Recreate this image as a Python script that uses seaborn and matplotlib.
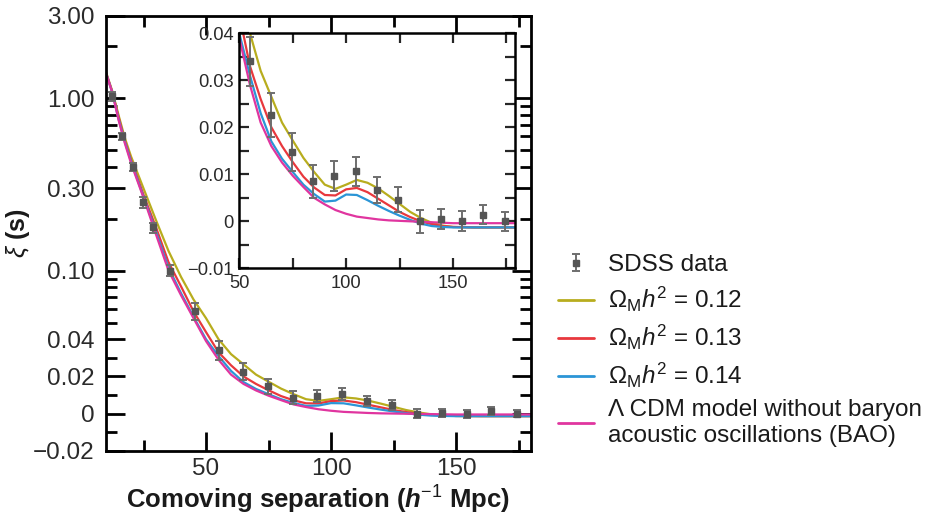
import matplotlib
matplotlib.use("Agg")
import matplotlib.pyplot as plt
import pandas as pd
import seaborn as sns
from matplotlib.legend_handler import HandlerErrorbar
from matplotlib.ticker import FixedLocator, FixedFormatter, NullFormatter

# SDSS correlation function points
sep_data = [12.3, 16.5, 20.6, 24.6, 28.6, 35.7, 45.4, 55.0, 64.8, 74.7, 84.7, 94.5,
            104.4, 114.5, 124.5, 134.4, 144.2, 154.2, 164.0, 174.2]
xi_data = [1.03, 0.60, 0.40, 0.25, 0.178, 0.100, 0.058, 0.0340, 0.0226, 0.0147, 0.0085, 0.0097,
           0.0106, 0.0067, 0.0046, 0.0000, 0.0005, 0.0000, 0.0014, 0.0000]
xi_err = [0.06, 0.031, 0.022, 0.019, 0.012, 0.0075, 0.0065, 0.0053, 0.0047, 0.0040, 0.0035, 0.0032,
          0.0030, 0.0028, 0.0027, 0.0024, 0.0022, 0.0021, 0.0020, 0.0020]

# model curves
sep_model = [10, 12.5, 15, 17.5, 20, 25, 30, 35, 40, 45, 50, 55, 60, 65, 70, 75, 80, 85, 90,
             95, 100, 105, 110, 115, 120, 125, 130, 135, 140, 145, 150, 160, 170, 180]
xi_012 = [1.42, 1.10, 0.80, 0.59, 0.46, 0.30, 0.196, 0.130, 0.092, 0.068, 0.053, 0.040, 0.032,
          0.0265, 0.0210, 0.0172, 0.0135, 0.0105, 0.0078, 0.0069, 0.0078, 0.0088, 0.0082, 0.0070,
          0.0054, 0.0037, 0.0020, 0.0007, -0.0003, -0.0009, -0.0012, -0.0013, -0.0013, -0.0013]
xi_013 = [1.40, 1.09, 0.78, 0.57, 0.44, 0.275, 0.178, 0.112, 0.081, 0.058, 0.044, 0.033, 0.026,
          0.0200, 0.0160, 0.0126, 0.0095, 0.0072, 0.0056, 0.0055, 0.0068, 0.0071, 0.0062, 0.0048,
          0.0034, 0.0020, 0.0009, 0.0000, -0.0006, -0.0010, -0.0012, -0.0013, -0.0013, -0.0013]
xi_014 = [1.40, 1.08, 0.76, 0.56, 0.43, 0.268, 0.168, 0.104, 0.074, 0.054, 0.040, 0.031, 0.023,
          0.0170, 0.0133, 0.0105, 0.0078, 0.0058, 0.0042, 0.0044, 0.0057, 0.0056, 0.0045, 0.0033,
          0.0022, 0.0012, 0.0003, -0.0005, -0.0010, -0.0012, -0.0013, -0.0013, -0.0013, -0.0013]
xi_nobao = [1.40, 1.08, 0.75, 0.55, 0.42, 0.265, 0.162, 0.100, 0.072, 0.053, 0.039, 0.029, 0.021,
            0.0160, 0.0125, 0.0097, 0.0073, 0.0050, 0.0036, 0.0024, 0.0016, 0.0010, 0.0007, 0.0004,
            0.0002, 0.0001, 0.0000, -0.0001, -0.0002, -0.0003, -0.0004, -0.0004, -0.0004, -0.0004]

labels = [r"$\Omega_{\mathrm{M}}h^2$ = 0.12", r"$\Omega_{\mathrm{M}}h^2$ = 0.13",
          r"$\Omega_{\mathrm{M}}h^2$ = 0.14",
          "\u039b CDM model without baryon\nacoustic oscillations (BAO)"]
colors = ["#b8ad1e", "#e8383d", "#2b95d6", "#e0359f"]

models = pd.concat([
    pd.DataFrame({"sep": sep_model, "xi": vals, "model": lab})
    for vals, lab in zip([xi_012, xi_013, xi_014, xi_nobao], labels)
])
palette = dict(zip(labels, colors))

sns.set_theme(style="ticks")
plt.rcParams["font.family"] = ["Liberation Sans", "DejaVu Sans"]
plt.rcParams["mathtext.fontset"] = "custom"
plt.rcParams["mathtext.rm"] = "Liberation Sans"
plt.rcParams["mathtext.it"] = "Liberation Sans:italic"
plt.rcParams["mathtext.bf"] = "Liberation Sans:bold"
plt.rcParams["mathtext.bfit"] = "Liberation Sans:bold:italic"

fig = plt.figure(figsize=(9.25, 5.16), dpi=100)
ax = fig.add_axes([0.1146, 0.126, 0.4595, 0.843])
ins = fig.add_axes([0.2587, 0.48, 0.298, 0.4555], zorder=5)
ins.set_facecolor("white")


def draw(a, lw):
    sns.lineplot(data=models, x="sep", y="xi", hue="model", palette=palette,
                 sort=False, estimator=None, linewidth=lw, legend=False, ax=a)
    return a.errorbar(sep_data, xi_data, yerr=xi_err, fmt="s", ms=4.5, color="#555555",
                      ecolor="#6e6e6e", elinewidth=1.4, capsize=3, capthick=1.4, zorder=4)


eb = draw(ax, 1.6)
draw(ins, 1.6)

# main axes: symlog y
ax.set_yscale("symlog", linthresh=0.04, linscale=0.389)
ax.set_xlim(10, 180)
ax.set_ylim(-0.02, 3.0)
yt = [-0.02, 0, 0.02, 0.04, 0.1, 0.3, 1.0, 3.0]
ax.yaxis.set_major_locator(FixedLocator(yt))
ax.yaxis.set_major_formatter(FixedFormatter(["\u22120.02", "0", "0.02", "0.04", "0.10",
                                             "0.30", "1.00", "3.00"]))
ax.yaxis.set_minor_locator(FixedLocator([-0.01, 0.01, 0.03, 0.05, 0.06, 0.07, 0.08, 0.09, 0.2,
                                         0.4, 0.5, 0.6, 0.7, 0.8, 0.9, 2.0]))
ax.yaxis.set_minor_formatter(NullFormatter())
ax.xaxis.set_major_locator(FixedLocator([50, 100, 150]))
ax.xaxis.set_minor_locator(FixedLocator([25, 75, 125, 175]))
ax.tick_params(which="both", direction="in", top=True, right=True, width=2, colors="black",
               labelsize=17.5, labelcolor="#2a2a2a")
ax.tick_params(which="major", length=14)
ax.tick_params(which="minor", length=8)
ax.tick_params(axis="y", pad=8)
ax.tick_params(axis="x", pad=5)
for s in ax.spines.values():
    s.set_linewidth(2)
    s.set_color("black")
ax.set_xlabel(r"Comoving separation ($\mathbfit{h}^{-1}$ Mpc)", fontsize=18.5,
              fontweight="bold", labelpad=3, color="#1a1a1a")
ax.set_ylabel(r"$\xi$ (s)", fontsize=18, fontweight="bold", labelpad=1, color="#1a1a1a")

# inset
ins.set_xlim(50, 179)
ins.set_ylim(-0.01, 0.04)
ins.xaxis.set_major_locator(FixedLocator([50, 100, 150]))
ins.xaxis.set_minor_locator(FixedLocator([75, 125, 175]))
ins.yaxis.set_major_locator(FixedLocator([-0.01, 0, 0.01, 0.02, 0.03, 0.04]))
ins.yaxis.set_major_formatter(FixedFormatter(["\u22120.01", "0", "0.01", "0.02", "0.03", "0.04"]))
ins.yaxis.set_minor_locator(FixedLocator([-0.005, 0.005, 0.015, 0.025, 0.035]))
ins.tick_params(which="both", direction="in", top=True, right=True, width=1.6, length=7,
                labelsize=13.2, labelcolor="#2a2a2a")
ins.tick_params(axis="y", pad=4)
ins.tick_params(axis="x", pad=5)
ins.set_xlabel("")
ins.set_ylabel("")
for s in ins.spines.values():
    s.set_linewidth(1.8)
    s.set_color("black")

# legend
handles = [eb] + [plt.Line2D([], [], color=c, lw=2) for c in colors]
fig.legend(handles, ["SDSS data"] + labels, loc="upper left",
           bbox_to_anchor=(558 / 925, 1 - 254 / 516), frameon=False, fontsize=17.5,
           handlelength=1.5, handletextpad=0.55, labelspacing=0.37, borderpad=0,
           borderaxespad=0, labelcolor="#1a1a1a",
           handler_map={type(eb): HandlerErrorbar(yerr_size=0.35)})

fig.savefig("out.png", dpi=100)
